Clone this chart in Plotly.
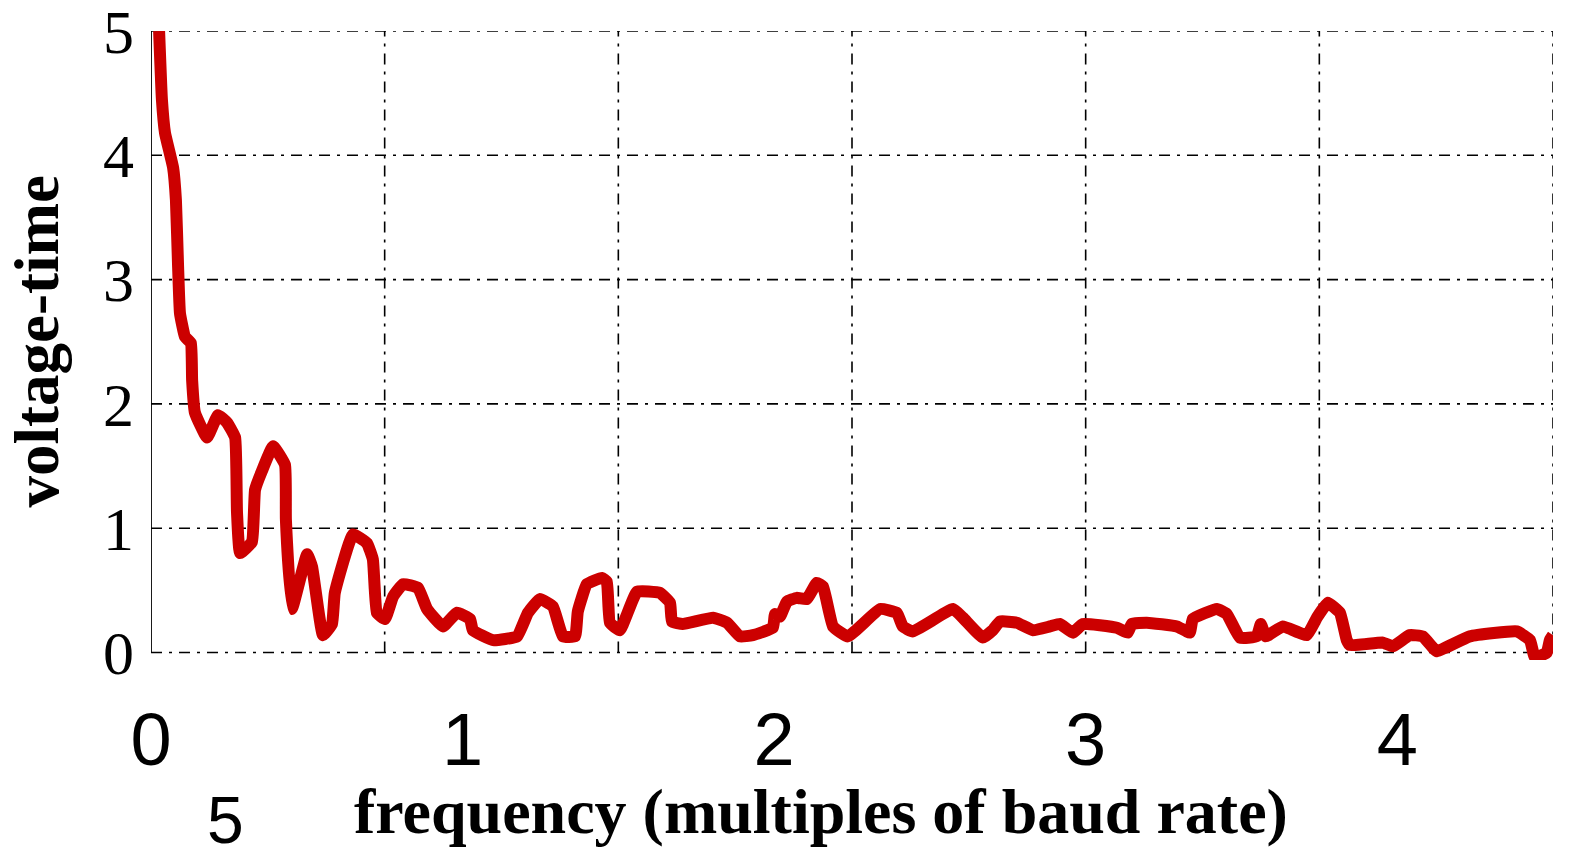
import plotly.graph_objects as go

# Frequency axis (multiples of baud rate) and measured voltage-time values
freq = [0.026, 0.035, 0.045, 0.071, 0.080, 0.087, 0.093, 0.109, 0.128, 0.132,
        0.141, 0.180, 0.215, 0.244, 0.270, 0.276, 0.286, 0.324, 0.334, 0.356,
        0.392, 0.430, 0.433, 0.452, 0.501, 0.517, 0.552, 0.581, 0.590, 0.648,
        0.693, 0.712, 0.725, 0.751, 0.777, 0.809, 0.857, 0.886, 0.937, 0.982,
        1.024, 1.033, 1.098, 1.175, 1.210, 1.248, 1.290, 1.322, 1.361, 1.370,
        1.399, 1.447, 1.463, 1.473, 1.505, 1.560, 1.633, 1.666, 1.672, 1.707,
        1.804, 1.849, 1.890, 1.932, 1.996, 2.003, 2.019, 2.041, 2.073, 2.105,
        2.137, 2.157, 2.189, 2.237, 2.340, 2.394, 2.413, 2.445, 2.574, 2.606,
        2.670, 2.702, 2.725, 2.779, 2.831, 2.885, 2.917, 2.959, 2.991, 3.100,
        3.135, 3.148, 3.196, 3.293, 3.334, 3.344, 3.421, 3.453, 3.495, 3.549,
        3.562, 3.578, 3.633, 3.710, 3.742, 3.777, 3.816, 3.838, 3.848, 3.954,
        3.986, 4.040, 4.082, 4.114, 4.127, 4.233, 4.384, 4.426, 4.442, 4.480,
        4.490, 4.500]
voltage_time = [5.00, 4.45, 4.18, 3.90, 3.64, 3.10, 2.73, 2.54, 2.49, 2.19,
                1.93, 1.73, 1.91, 1.85, 1.73, 1.13, 0.80, 0.89, 1.31, 1.46,
                1.66, 1.51, 1.07, 0.35, 0.79, 0.69, 0.14, 0.23, 0.48, 0.95,
                0.88, 0.75, 0.32, 0.27, 0.45, 0.55, 0.52, 0.35, 0.21, 0.32,
                0.27, 0.18, 0.10, 0.13, 0.32, 0.43, 0.37, 0.13, 0.13, 0.33,
                0.55, 0.60, 0.57, 0.24, 0.18, 0.49, 0.48, 0.40, 0.25, 0.23,
                0.28, 0.24, 0.13, 0.14, 0.20, 0.31, 0.29, 0.41, 0.44, 0.43,
                0.56, 0.53, 0.21, 0.13, 0.35, 0.32, 0.21, 0.17, 0.35, 0.28,
                0.12, 0.18, 0.25, 0.24, 0.18, 0.21, 0.23, 0.16, 0.23, 0.20,
                0.16, 0.23, 0.24, 0.21, 0.16, 0.27, 0.35, 0.31, 0.12, 0.13,
                0.23, 0.13, 0.21, 0.14, 0.28, 0.40, 0.32, 0.10, 0.06, 0.08,
                0.05, 0.14, 0.13, 0.04, 0.01, 0.13, 0.17, 0.10, -0.04, 0.00,
                0.10, 0.14]

# Axis ticks and grid positions
x_tick_vals = [0, 1, 2, 3, 4]
x_tick_text = ["0", "1", "2", "3", "4"]
x_grid = [0.75, 1.5, 2.25, 3.0, 3.75, 4.5]
y_tick_vals = [0, 1, 2, 3, 4, 5]
y_tick_text = ["0", "1", "2", "3", "4", "5"]
x_max = 4.5
y_min, y_max = -0.06, 5

SERIF = "Liberation Serif, Times New Roman, serif"
SANS = "Liberation Sans, Arial, sans-serif"
GRID_DASH = "11px,7px,3px,7px"

fig = go.Figure()
fig.add_trace(go.Scatter(
    x=freq, y=voltage_time, mode="lines",
    line=dict(color="#cc0000", width=12, shape="spline", smoothing=0.35),
    hoverinfo="skip", showlegend=False,
))

shapes = []
# vertical grid lines
for gx in x_grid:
    shapes.append(dict(type="line", xref="x", yref="y", x0=gx, x1=gx, y0=0, y1=y_max,
                       line=dict(color="black", width=1.6, dash=GRID_DASH), layer="below"))
# horizontal grid lines
for gy in y_tick_vals:
    shapes.append(dict(type="line", xref="x", yref="y", x0=0, x1=x_max, y0=gy, y1=gy,
                       line=dict(color="black", width=1.6, dash=GRID_DASH), layer="below"))
# solid left axis line
shapes.append(dict(type="line", xref="x", yref="y", x0=0, x1=0, y0=0, y1=y_max,
                   line=dict(color="black", width=1.8), layer="below"))

fig.update_layout(
    width=1577, height=859,
    margin=dict(l=151, r=24, t=31, b=198.5, autoexpand=False),
    paper_bgcolor="white", plot_bgcolor="white",
    shapes=shapes,
    xaxis=dict(
        range=[0, x_max], tickmode="array", tickvals=x_tick_vals, ticktext=x_tick_text,
        showgrid=False, zeroline=False, showline=False, ticks="",
        tickfont=dict(family=SANS, size=74, color="black"),
        ticklabelstandoff=30, ticklabeloverflow="allow",
    ),
    yaxis=dict(
        range=[y_min, y_max], tickmode="array", tickvals=y_tick_vals, ticktext=y_tick_text,
        showgrid=False, zeroline=False, showline=False, ticks="",
        tickfont=dict(family=SERIF, size=62, color="black"),
        ticklabelstandoff=16, ticklabeloverflow="allow",
    ),
    annotations=[
        dict(text="<b>frequency (multiples of baud rate)</b>", xref="paper", yref="paper",
             x=0.478, y=0, yshift=-151.5, xanchor="center", yanchor="middle",
             showarrow=False, font=dict(family=SERIF, size=64, color="black")),
        dict(text="<b>voltage-time</b>", xref="paper", yref="paper",
             x=-0.0815, y=0.506, xanchor="center", yanchor="middle", textangle=-90,
             showarrow=False, font=dict(family=SERIF, size=63, color="black")),
        dict(text="5", xref="paper", yref="paper",
             x=0.0528, y=0, yshift=-160, xanchor="center", yanchor="middle",
             showarrow=False, font=dict(family=SANS, size=66, color="black")),
    ],
)

fig.write_html("out.html")
